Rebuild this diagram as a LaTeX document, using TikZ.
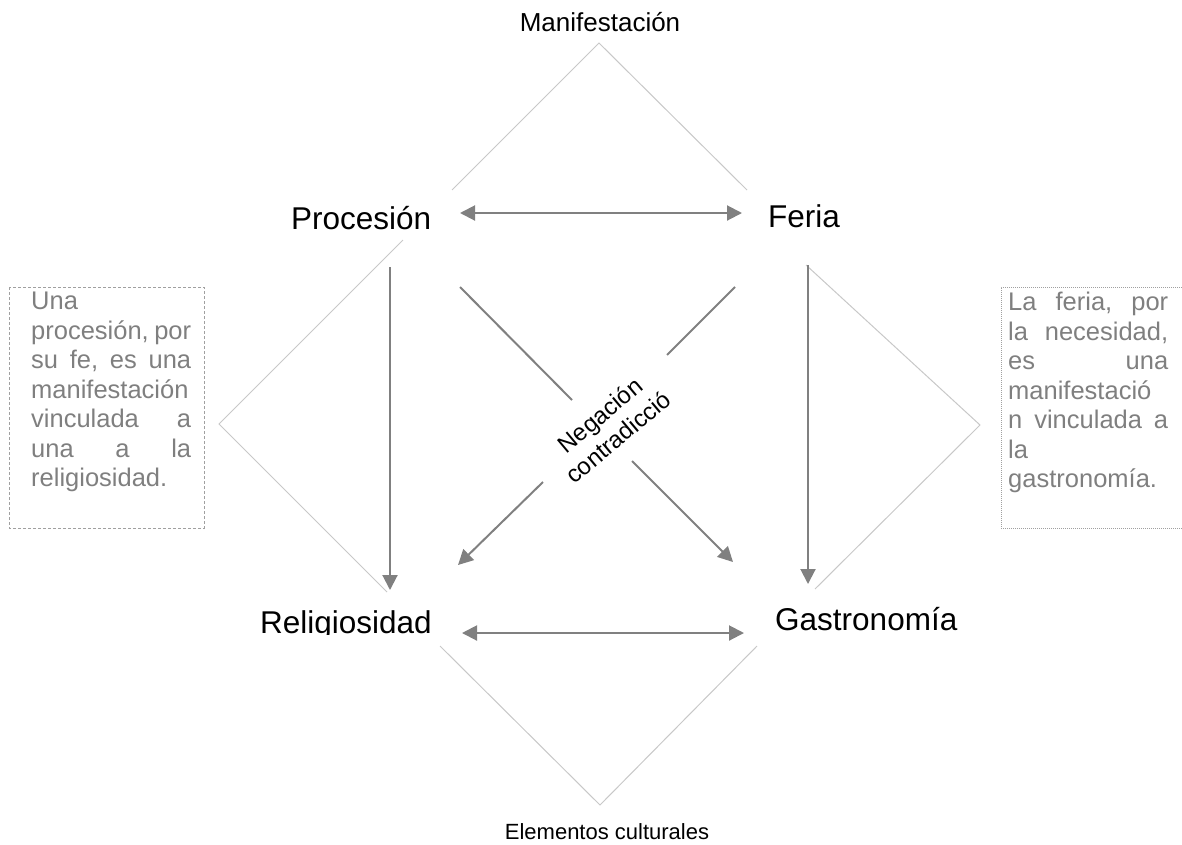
\documentclass[tikz,border=0pt]{standalone}
\usepackage{fontspec}
\setmainfont{Liberation Sans}
\usetikzlibrary{arrows.meta}
\definecolor{arrowgray}{HTML}{808080}
\definecolor{linegray}{HTML}{C8C8C8}
\definecolor{boxgray}{HTML}{A0A0A0}
\definecolor{notegray}{HTML}{7F7F7F}
\begin{document}
\begin{tikzpicture}[x=1pt,y=-1pt,
  term/.style={inner sep=0pt,anchor=base west,font=\fontsize{31.5}{36}\selectfont},
  caption/.style={inner sep=0pt,anchor=base},
  arr/.style={draw=arrowgray,line width=2pt,
    arrows={-Triangle[length=15pt,width=15pt]}},
  dblarr/.style={arr,arrows={Triangle[length=15pt,width=15pt]-Triangle[length=15pt,width=15pt]}},
  plainarr/.style={draw=arrowgray,line width=2pt},
  frame/.style={draw=linegray,line width=1pt},
  note/.style={inner sep=0pt,anchor=north west,text width=160pt,align=left,
    text=notegray,font=\fontsize{25.5}{29.5}\selectfont}]
\useasboundingbox (0,0) rectangle (1182,844);

% captions of the two outer triangles
\node[caption,font=\fontsize{26}{30}\selectfont] (manif) at (600,31) {Manifestación};
\node[caption,font=\fontsize{22}{26}\selectfont] (elem) at (607,839) {Elementos culturales};

% the four terms
\node[term] (proc) at (291,229) {Procesión};
\node[term] (feria) at (768,227) {Feria};
\begin{scope}
  \clip (250,590) rectangle (445,634.5);
  \node[term] (relig) at (260,633) {Religiosidad};
\end{scope}
\node[term] (gastro) at (775,630) {Gastronomía};

% light outline triangles
\coordinate (topL) at (452,190); \coordinate (topA) at (599,43); \coordinate (topR) at (747,190);
\draw[frame] (topL) -- (topA) -- (topR);
\coordinate (lfT) at (403,240); \coordinate (lfA) at (219,424); \coordinate (lfB) at (387,592);
\draw[frame] (lfT) -- (lfA) -- (lfB);
\coordinate (rtT) at (806,265); \coordinate (rtA) at (980,425); \coordinate (rtB) at (815,589);
\draw[frame] (rtT) -- (rtA) -- (rtB);
\coordinate (btL) at (440,646); \coordinate (btA) at (600,805); \coordinate (btR) at (757,646);
\draw[frame] (btL) -- (btA) -- (btR);

% horizontal relations
\coordinate (h1a) at (460,213); \coordinate (h1b) at (742,213);
\draw[dblarr] (h1a) -- (h1b);
\coordinate (h2a) at (462,633); \coordinate (h2b) at (744,633);
\draw[dblarr] (h2a) -- (h2b);

% vertical implications
\coordinate (v1a) at (390,267); \coordinate (v1b) at (390,590);
\draw[arr] (v1a) -- (v1b);
\coordinate (v2a) at (808,265); \coordinate (v2b) at (808,584);
\draw[arr] (v2a) -- (v2b);

% diagonals, interrupted by the label
\coordinate (d1a) at (460,287); \coordinate (d1b) at (572,400);
\coordinate (d1c) at (632,461); \coordinate (d1d) at (733,562);
\draw[plainarr] (d1a) -- (d1b);
\draw[arr] (d1c) -- (d1d);
\coordinate (d2a) at (735,287); \coordinate (d2b) at (667,355);
\coordinate (d2c) at (543,482); \coordinate (d2d) at (458,565);
\draw[plainarr] (d2a) -- (d2b);
\draw[arr] (d2c) -- (d2d);

\node[rotate=40,align=center,inner sep=0pt,font=\fontsize{24}{28.5}\selectfont] (neg) at (609,426)
  {Negación\\contradicció};

% side notes
\draw[boxgray,line width=0.8pt,dash pattern=on 3pt off 2pt] (9,287) rectangle (204,528);
\node[note] (noteL) at (31,292)
  {Una\\
   procesión,\hfill por\\
   su\hfill fe,\hfill es\hfill una\\
   manifestación\\
   vinculada\hfill a\\
   una\hfill a\hfill la\\
   religiosidad.};

\draw[boxgray,line width=0.8pt,dash pattern=on 1pt off 1pt] (1182,287) -- (1001,287) -- (1001,528) -- (1182,528);
\node[note] (noteR) at (1008,292)
  {La\hfill feria,\hfill por\\
   la\hfill necesidad,\\
   es\hfill una\\
   manifestació\\
   n\hfill vinculada\hfill a\\
   la\\
   gastronomía.};
\end{tikzpicture}
\end{document}
